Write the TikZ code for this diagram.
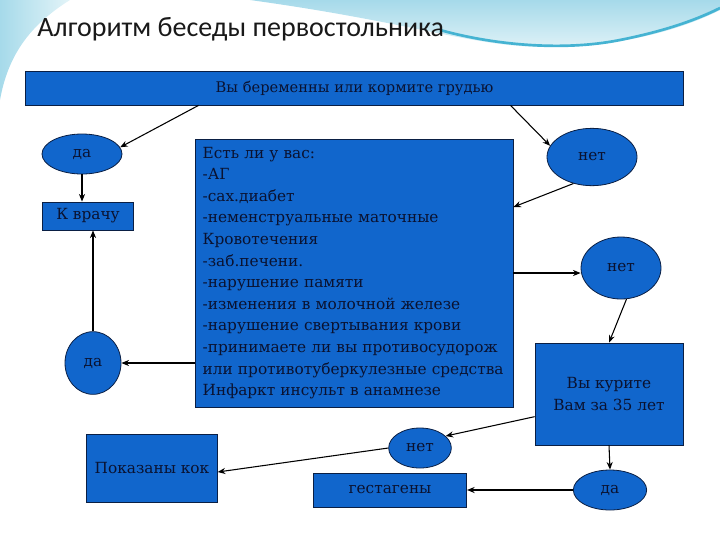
\documentclass[tikz,border=0pt]{standalone}
\usepackage{fontspec}
\setmainfont{DejaVu Serif}
\newfontfamily\headfont{Carlito}
\usetikzlibrary{arrows.meta,shapes.geometric}
\definecolor{Ink}{HTML}{0A1230}
\definecolor{Flow}{HTML}{1166CC}
\definecolor{Edge}{HTML}{0A1F44}
\definecolor{Sky}{HTML}{E3F4F8}
\definecolor{SkyMid}{HTML}{A6DAEA}
\definecolor{SkyDeep}{HTML}{45B3D2}
\tikzset{
  box/.style={draw=Edge,fill=Flow,line width=.6pt,text=Ink,align=center,inner sep=0pt,font=\fontsize{11.5}{16.2}\selectfont},
  oval/.style={ellipse,draw=Edge,fill=Flow,line width=.6pt,text=Ink,inner sep=0pt,font=\fontsize{11.5}{14}\selectfont},
  flow/.style={-{Stealth[length=2mm,width=1.6mm]},draw=black,line width=.8pt},
  heading/.style={text=black!90,inner sep=0pt,font=\headfont\fontsize{21}{24}\selectfont}
}
\begin{document}
\begin{tikzpicture}[x=.75pt,y=-.75pt]
  \useasboundingbox (0,0) rectangle (720,540);
  % backdrop swoosh
  \shade[top color=SkyMid,bottom color=Sky] (250,0) -- (720,0) -- (720,10)
    .. controls (650,45) and (560,52) .. (500,44) .. controls (440,36) and (380,18) .. (250,0) -- cycle;
  \draw[SkyDeep,line width=2pt] (440,30) .. controls (490,44) and (560,52) .. (620,40)
    .. controls (670,30) and (700,18) .. (720,8);
  \shade[left color=SkyMid,right color=Sky] (0,0) -- (70,0) .. controls (30,25) and (8,55) .. (0,100) -- cycle;
  \node[heading,anchor=base west] (title) at (37,36) {Алгоритм беседы первостольника};

  \node[box,font=\fontsize{11}{14}\selectfont,minimum width=494pt,minimum height=25.5pt] (ask) at (354.5,88) {Вы беременны или кормите грудью};
  \node[oval,minimum width=60pt,minimum height=30pt] (yes1) at (82,154) {да};
  \node[box,minimum width=68pt,minimum height=21pt] (doctor) at (88,216) {К врачу};
  \node[oval,minimum width=42pt,minimum height=47pt] (yes2) at (93,363) {да};
  \node[box,minimum width=238.5pt,minimum height=201pt,text width=227pt,align=left] (risk) at (354,273)
    {Есть ли у вас:\\-АГ\\-сах.диабет\\-неменструальные маточные\\Кровотечения\\-заб.печени.\\-нарушение памяти\\-изменения в молочной железе\\-нарушение свертывания крови\\-принимаете ли вы противосудорож\\или противотуберкулезные средства\\Инфаркт инсульт в анамнезе};
  \node[oval,minimum width=67.5pt,minimum height=43pt] (no1) at (592,157) {нет};
  \node[oval,minimum width=60pt,minimum height=46.5pt] (no2) at (621,268) {нет};
  \node[box,minimum width=111pt,minimum height=76.5pt] (smoke) at (609,394) {Вы курите\\Вам за 35 лет};
  \node[oval,minimum width=47pt,minimum height=30pt] (no3) at (420,448) {нет};
  \node[box,minimum width=98pt,minimum height=51pt] (coc) at (152,468) {Показаны кок};
  \node[box,minimum width=115pt,minimum height=25.5pt] (gest) at (390,490) {гестагены};
  \node[oval,minimum width=55pt,minimum height=30pt] (yes3) at (610,490) {да};

  \draw[flow] ([xshift=-117pt]ask.south) -- (yes1.10);
  \draw[flow] ([xshift=117pt]ask.south) -- (no1.165);
  \draw[flow] (yes1.south) -- (yes1.south |- doctor.north);
  \draw[flow] (yes2.north) -- (yes2.north |- doctor.south);
  \draw[flow] (yes2.east -| risk.west) -- (yes2.east);
  \draw[flow] (no1.235) -- ([yshift=49.5pt]risk.east);
  \draw[flow] (risk.east) -- (risk.east -| no2.west);
  \draw[flow] (no2.-80) -- (smoke.north);
  \draw[flow] ([yshift=-17pt]smoke.west) -- (no3.25);
  \draw[flow] (no3.west) -- ([yshift=-3pt]coc.east);
  \draw[flow] (smoke.south) -- (yes3.north);
  \draw[flow] (yes3.west) -- (gest.east);
\end{tikzpicture}
\end{document}
